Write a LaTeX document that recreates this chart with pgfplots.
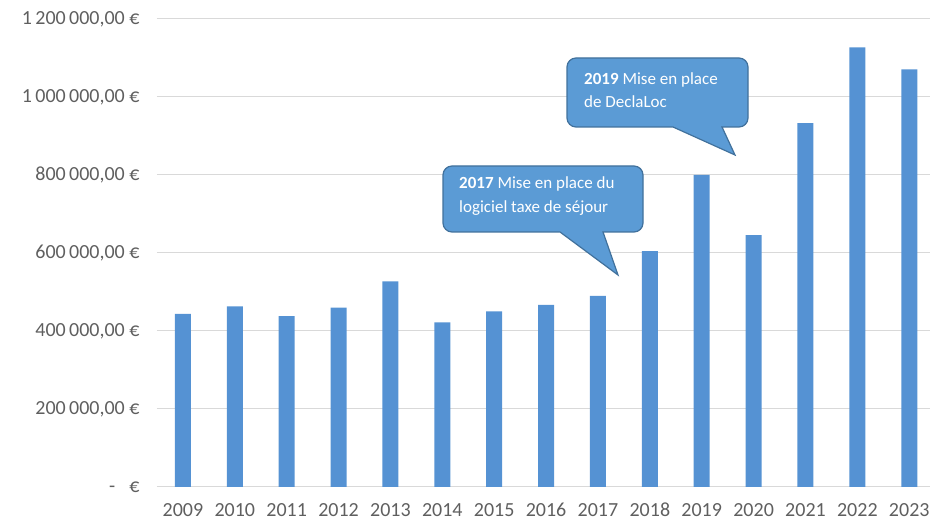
\documentclass[border=0pt]{standalone}
\usepackage{pgfplots}
\pgfplotsset{compat=1.18}
\usepackage{fontspec}
\setmainfont{Carlito}
\definecolor{barblue}{HTML}{5592D3}
\definecolor{callfill}{HTML}{5B9BD5}
\definecolor{callborder}{HTML}{41719C}
\definecolor{gridgray}{HTML}{D9D9D9}
\definecolor{labgray}{HTML}{5F5F5F}
\begin{document}
\begin{tikzpicture}[x=1pt,y=1pt]
\path[use as bounding box] (0,0) rectangle (930,522);
\begin{axis}[
  at={(157pt,35pt)}, anchor=south west,
  scale only axis, width=773pt, height=468pt,
  xmin=-0.5, xmax=14.4, ymin=0, ymax=1200000,
  axis line style={draw=none},
  major tick length=0pt,
  ymajorgrids, grid style={gridgray, line width=1pt},
  scaled y ticks=false,
  ytick={0,200000,400000,600000,800000,1000000,1200000},
  yticklabels={{-\hspace{14pt}€},{200\,000,00 €},{400\,000,00 €},{600\,000,00 €},{800\,000,00 €},{1\,000\,000,00 €},{1\,200\,000,00 €}},
  xtick={0,1,...,14},
  xticklabels={2009,2010,2011,2012,2013,2014,2015,2016,2017,2018,2019,2020,2021,2022,2023},
  tick label style={font=\fontsize{20}{22}\selectfont, text=labgray},
  yticklabel style={xshift=-14pt},
  xticklabel style={anchor=north, inner sep=1pt, text height=14pt, text depth=0pt, yshift=-14pt},
]
\addplot[ybar, bar width=16pt, fill=barblue, draw=none] coordinates {
(0,444000) (1,463000) (2,438000) (3,460000) (4,527000) (5,422000) (6,450000) (7,467000)
(8,490000) (9,605000) (10,800000) (11,646000) (12,933000) (13,1127000) (14,1071000)};
\end{axis}
% callout 2017
\path[fill=callfill, draw=callborder, line width=1.2pt]
 (560,290) -- (452,290) arc[start angle=270, end angle=180, radius=9]
 -- (443,347) arc[start angle=180, end angle=90, radius=9]
 -- (634,356) arc[start angle=90, end angle=0, radius=9]
 -- (643,299) arc[start angle=0, end angle=-90, radius=9]
 -- (603,290) -- (618,247) -- cycle;
\node[anchor=north west, text=white, font=\fontsize{17}{24}\selectfont, align=left, inner sep=0pt] at (459,345) {\textbf{2017} Mise en place du\\logiciel taxe de séjour};
% callout 2019
\path[fill=callfill, draw=callborder, line width=1.2pt]
 (673,395) -- (576,395) arc[start angle=270, end angle=180, radius=9]
 -- (567,455) arc[start angle=180, end angle=90, radius=9]
 -- (739,464) arc[start angle=90, end angle=0, radius=9]
 -- (748,404) arc[start angle=0, end angle=-90, radius=9]
 -- (722,395) -- (735,367) -- cycle;
\node[anchor=north west, text=white, font=\fontsize{17}{23}\selectfont, align=left, inner sep=0pt] at (584,449) {\textbf{2019} Mise en place\\de DeclaLoc};
\end{tikzpicture}
\end{document}
